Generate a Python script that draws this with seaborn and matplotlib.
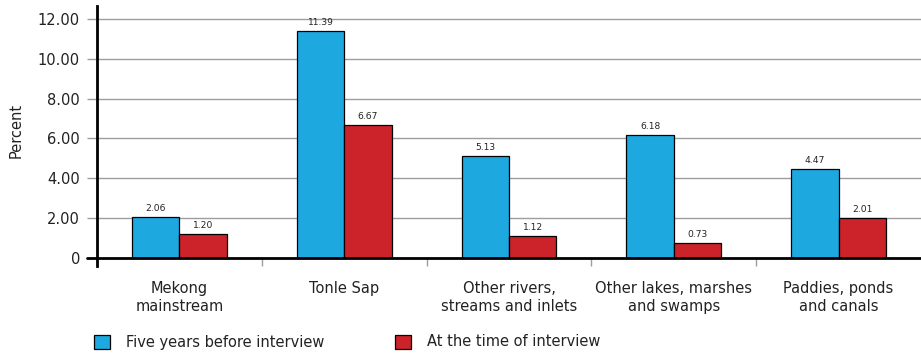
import matplotlib
matplotlib.use("Agg")
import matplotlib.pyplot as plt
from matplotlib.patches import Patch
import seaborn as sns
import pandas as pd

# Data
categories = ["Mekong\nmainstream", "Tonle Sap", "Other rivers,\nstreams and inlets",
              "Other lakes, marshes\nand swamps", "Paddies, ponds\nand canals"]
periods = ["Five years before interview", "At the time of interview"]
five_years_before = [2.06, 11.39, 5.13, 6.18, 4.47]
at_interview = [1.20, 6.67, 1.12, 0.73, 2.01]
y_ticks = [0, 2, 4, 6, 8, 10, 12]
y_tick_labels = ["0", "2.00", "4.00", "6.00", "8.00", "10.00", "12.00"]

BLUE = "#1EA8E0"
RED = "#CC2229"
TEXT = "#222222"

df = pd.DataFrame({
    "category": categories * 2,
    "period": [periods[0]] * len(categories) + [periods[1]] * len(categories),
    "value": five_years_before + at_interview,
})

sns.set_theme(style="white")
plt.rcParams["font.family"] = ["DejaVu Sans"]

fig = plt.figure(figsize=(9.21, 3.54), dpi=100)
ax = fig.add_axes([97 / 921, 88 / 354, 824 / 921, 260 / 354])

sns.barplot(data=df, x="category", y="value", hue="period", hue_order=periods,
            palette=[BLUE, RED], width=0.576, edgecolor="black", linewidth=0.9,
            saturation=1, legend=False, ax=ax)

ax.set_xlim(-0.5, len(categories) - 0.5)
ax.set_ylim(-0.4, 12.65)

# gridlines and axis styling
ax.set_yticks(y_ticks)
ax.set_yticklabels(y_tick_labels, fontsize=10.5, color=TEXT)
for y in y_ticks[1:]:
    ax.axhline(y, color="#9e9e9e", linewidth=1.0, zorder=0)
ax.tick_params(axis="y", length=7.2, width=1.0, color="#9e9e9e", pad=5, left=True)
ax.axhline(0, xmin=-10 / 824, xmax=1, color="black", linewidth=2, zorder=3, clip_on=False)

for side in ["top", "right", "bottom"]:
    ax.spines[side].set_visible(False)
ax.spines["left"].set_color("black")
ax.spines["left"].set_linewidth(2)

# category labels centered under groups; separators between groups
ax.set_xticks(range(len(categories)))
ax.set_xticklabels(categories, fontsize=10.5, color=TEXT, linespacing=1.3)
ax.tick_params(axis="x", length=0, pad=10.5, bottom=True)
ax.set_xticks([i + 0.5 for i in range(len(categories) - 1)], minor=True)
ax.tick_params(axis="x", which="minor", length=5.8, width=1.0, color="#9e9e9e",
               direction="in", bottom=True)
ax.xaxis.set_ticks_position("bottom")
ax.set_xlabel("")

ax.set_ylabel("Percent", fontsize=10.5, color=TEXT)
ax.yaxis.set_label_coords(-73 / 824, 0.523)

# value labels above bars
for container in ax.containers:
    ax.bar_label(container, fmt="%.2f", fontsize=6.6, padding=3, color=TEXT)

handles = [Patch(facecolor=BLUE, edgecolor="black", linewidth=0.9),
           Patch(facecolor=RED, edgecolor="black", linewidth=0.9)]
fig.legend(handles, periods, loc="center left", bbox_to_anchor=(94 / 921, 12 / 354),
           ncol=2, frameon=False, fontsize=10.5, handlelength=1.1, handleheight=1.1,
           handletextpad=1.1, columnspacing=4.85, borderpad=0, borderaxespad=0,
           labelcolor=TEXT)

fig.savefig("out.png", dpi=100)
